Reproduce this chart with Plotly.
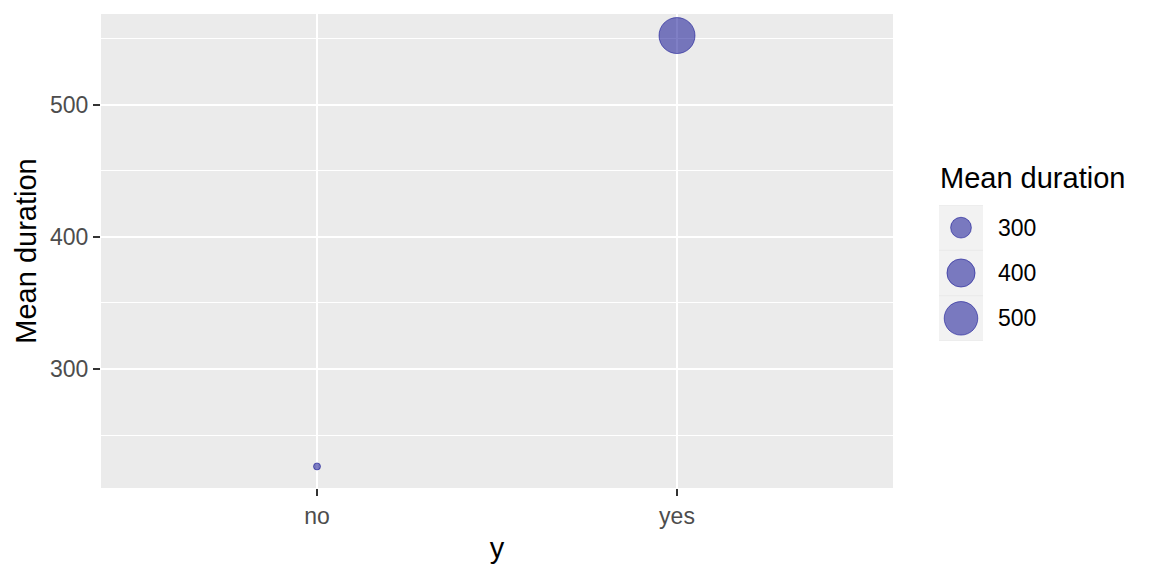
import numpy as np
import plotly.graph_objects as go

# data
outcome = ["no", "yes"]
mean_duration = [226.3, 552.3]

# size legend entries
legend_values = [300, 400, 500]

W, H = 1152, 576
OFF = 8  # page body margin in the browser
FONT = "Liberation Sans, Arial, sans-serif"
FILL = "rgba(0,0,139,0.5)"


def fx(px):
    return (px - OFF) / W


def fy(px):
    return 1 - (px - OFF) / H


def size_px(v, vmin, vmax, dmin=7, dmax=36):
    # ggplot-style area scale: diameter grows with sqrt of the rescaled value
    v = np.asarray(v, dtype=float)
    return dmin + (dmax - dmin) * np.sqrt((v - vmin) / (vmax - vmin))


vmin, vmax = min(mean_duration), max(mean_duration)
span = vmax - vmin
yrange = [vmin - 0.05 * span, vmax + 0.05 * span]

fig = go.Figure()

fig.add_trace(go.Scatter(
    x=outcome, y=mean_duration, mode="markers",
    marker=dict(size=size_px(mean_duration, vmin, vmax), color=FILL, opacity=1,
                line=dict(color=FILL, width=1)),
    showlegend=False, hoverinfo="x+y",
))

# legend keys (grey boxes) and circles on their own little axis pair
leg_labels = [str(v) for v in legend_values]
fig.add_trace(go.Scatter(
    x=[0.5] * len(leg_labels), y=leg_labels, mode="markers",
    marker=dict(size=44, symbol="square", color="#F2F2F2", opacity=1),
    xaxis="x2", yaxis="y2", showlegend=False, hoverinfo="skip",
))
fig.add_trace(go.Scatter(
    x=[0.5] * len(leg_labels), y=leg_labels, mode="markers",
    marker=dict(size=size_px(legend_values, vmin, vmax), color=FILL, opacity=1,
                line=dict(color=FILL, width=1)),
    xaxis="x2", yaxis="y2", showlegend=False, hoverinfo="skip",
))

fig.update_layout(
    width=W, height=H,
    margin=dict(l=0, r=0, t=0, b=0),
    paper_bgcolor="white",
    plot_bgcolor="#EBEBEB",
    font=dict(family=FONT, size=23, color="black"),
    xaxis=dict(
        domain=[fx(101), fx(893)],
        type="category", categoryarray=outcome, range=[-0.6, 1.6],
        showgrid=True, gridcolor="white", gridwidth=2,
        ticks="outside", ticklen=7, tickwidth=2, tickcolor="#333333",
        tickfont=dict(size=23, color="#4D4D4D"),
        zeroline=False, showline=False, automargin=False,
        title=dict(text="y", font=dict(size=29), standoff=10),
        anchor="y",
    ),
    yaxis=dict(
        domain=[fy(488), fy(14)],
        range=yrange, dtick=100, tick0=0,
        showgrid=True, gridcolor="white", gridwidth=2,
        minor=dict(dtick=50, tick0=0, showgrid=True, gridcolor="white", gridwidth=1),
        ticks="outside", ticklen=7, tickwidth=2, tickcolor="#333333",
        tickfont=dict(size=23, color="#4D4D4D"),
        zeroline=False, showline=False, automargin=False,
        title=dict(text="Mean duration", font=dict(size=29), standoff=4),
        anchor="x",
    ),
    xaxis2=dict(
        domain=[fx(939), fx(983)], range=[0, 1], anchor="y2",
        visible=False, fixedrange=True,
    ),
    yaxis2=dict(
        domain=[fy(341), fy(205)], anchor="x2",
        type="category", categoryarray=leg_labels[::-1], range=[-0.5, 2.5],
        side="right", showgrid=False, zeroline=False, showline=False,
        ticks="", ticklabelstandoff=14,
        tickfont=dict(size=23, color="black"), fixedrange=True,
        automargin=False,
    ),
    annotations=[dict(
        text="Mean duration", xref="paper", yref="paper",
        x=fx(938), y=fy(178), xanchor="left", yanchor="middle",
        showarrow=False, font=dict(size=29, color="black"),
    )],
)

fig.write_html("out.html")
